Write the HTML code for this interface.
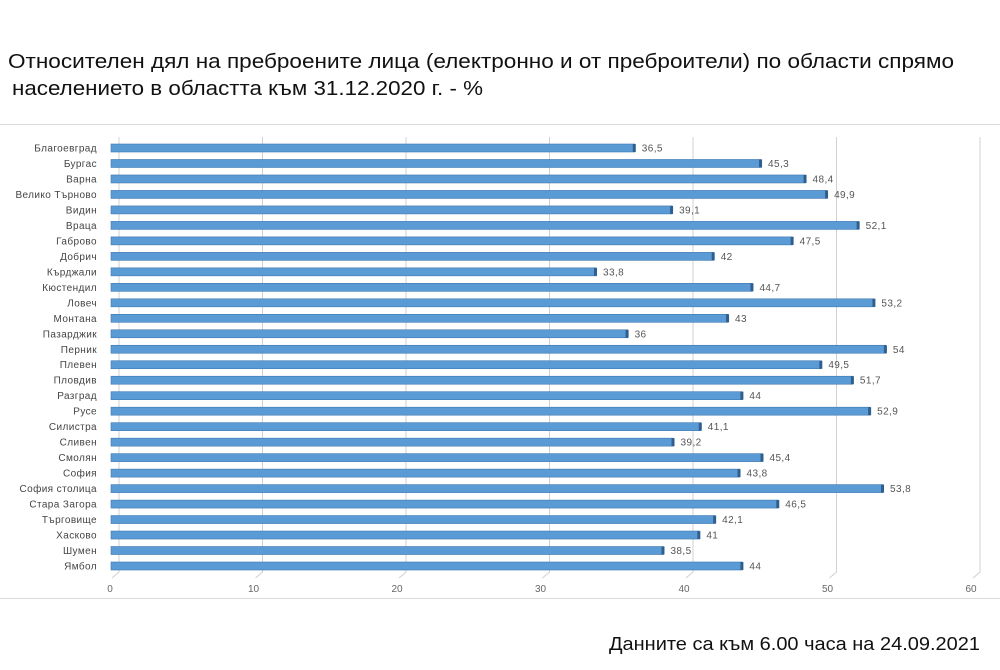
<!DOCTYPE html>
<html><head><meta charset="utf-8"><style>
body{margin:0;width:1000px;height:665px;background:#fff;overflow:hidden;font-family:"Liberation Sans","DejaVu Sans",sans-serif}
</style></head><body>
<svg width="1000" height="665" xmlns="http://www.w3.org/2000/svg" font-family="Liberation Sans, DejaVu Sans, sans-serif">
<text x="8" y="68" font-size="20" fill="#111" textLength="946" lengthAdjust="spacingAndGlyphs">Относителен дял на преброените лица (електронно и от преброители) по области спрямо</text>
<text x="12" y="95" font-size="20" fill="#111" textLength="471" lengthAdjust="spacingAndGlyphs">населението в областта към 31.12.2020 г. - %</text>
<line x1="0" y1="124.5" x2="1000" y2="124.5" stroke="#d9d9d9"/>
<line x1="0" y1="598.5" x2="1000" y2="598.5" stroke="#d9d9d9"/>
<g id="grid" stroke="#d0d0d0" fill="none"></g>
<g id="bars"></g>
<text x="609" y="650" font-size="18" fill="#111" textLength="371" lengthAdjust="spacingAndGlyphs">Данните са към 6.00 часа на 24.09.2021</text>
<script>
const names=["Благоевград","Бургас","Варна","Велико Търново","Видин","Враца","Габрово","Добрич","Кърджали","Кюстендил","Ловеч","Монтана","Пазарджик","Перник","Плевен","Пловдив","Разград","Русе","Силистра","Сливен","Смолян","София","София столица","Стара Загора","Търговище","Хасково","Шумен","Ямбол"];
const vals=["36,5","45,3","48,4","49,9","39,1","52,1","47,5","42","33,8","44,7","53,2","43","36","54","49,5","51,7","44","52,9","41,1","39,2","45,4","43,8","53,8","46,5","42,1","41","38,5","44"];
const ns="http://www.w3.org/2000/svg";
const g=document.getElementById('grid'),b=document.getElementById('bars');
function el(t,a,p,txt){const e=document.createElementNS(ns,t);for(const k in a)e.setAttribute(k,a[k]);if(txt!==undefined)e.textContent=txt;p.appendChild(e);return e;}
const X0=113,S=14.35;
for(let i=0;i<=6;i++){const x=X0+i*10*S;
 el('polyline',{points:`${x+6},137 ${x+6},572 ${x-1},578`},g);
 el('text',{x:x-3,y:592,'font-size':10,fill:'#666','text-anchor':'middle'},b,String(i*10));}
const y0=148,step=(566-148)/27;
names.forEach((n,i)=>{const y=y0+i*step;const v=parseFloat(vals[i].replace(',','.'));const w=v*S;
 el('text',{x:97,y:y+3.5,'font-size':10,fill:'#444','text-anchor':'end','letter-spacing':'0.4'},b,n);
 el('rect',{x:X0-2,y:y-4,width:w,height:8,fill:'#5b9bd5',stroke:'#3e77b0','stroke-width':0.6},b);
 el('rect',{x:X0-2+w-2,y:y-4,width:3,height:8,fill:'#2f5f8f'},b);
 el('text',{x:X0+w+5,y:y+3.5,'font-size':10,fill:'#555','letter-spacing':'0.4'},b,vals[i]);});
</script>
</svg>
</body></html>
